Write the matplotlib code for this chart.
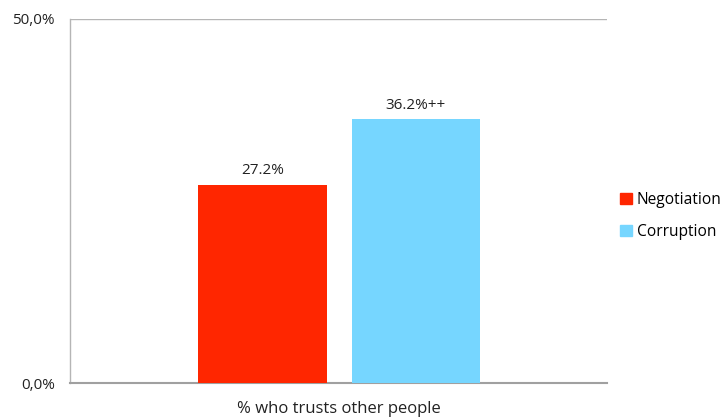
import matplotlib
matplotlib.use("Agg")
import matplotlib.pyplot as plt
from matplotlib.patches import Patch

categories = ["% who trusts other people"]
series = ["Negotiation", "Corruption"]
values = [27.2, 36.2]
labels = ["27.2%", "36.2%++"]
colors = ["#FF2600", "#76D6FF"]
yticks = [0, 50]
ytick_labels = ["0,0%", "50,0%"]

plt.rcParams['font.family'] = ['Open Sans', 'DejaVu Sans']

fig = plt.figure(figsize=(7.26, 4.19), dpi=100)
ax = fig.add_axes([70/726, 1-383/419, 537/726, 364/419])

offsets = [-0.1429, 0.1429]
width = 0.240
for v, lab, c, off in zip(values, labels, colors, offsets):
    ax.bar(0 + off, v, width=width, color=c, zorder=3)
    ax.text(0 + off, v + 0.9, lab, ha='center', va='bottom', fontsize=11, color='#222222')

ax.set_xlim(-0.5014, 0.4986)
ax.set_ylim(0, 50)
ax.set_yticks(yticks)
ax.set_yticklabels(ytick_labels, fontsize=11, color='#222222')
ax.set_xticks([0])
ax.set_xticklabels(categories, fontsize=12, color='#222222')
ax.tick_params(axis='x', length=0, pad=13)
ax.tick_params(axis='y', length=0, pad=11)
ax.axhline(50, color='#B5B5B5', lw=1.0, zorder=1)
for s in ['top', 'right']:
    ax.spines[s].set_visible(False)
ax.spines['left'].set_color('#B5B5B5')
ax.spines['left'].set_linewidth(1.0)
ax.spines['bottom'].set_color('#A0A0A0')
ax.spines['bottom'].set_linewidth(1.5)

handles = [Patch(color=c) for c in colors]
fig.legend(handles, series, loc='center left', bbox_to_anchor=(614/726, 1-216/419),
           frameon=False, fontsize=11.2, handlelength=0.75, handleheight=0.75,
           handletextpad=0.3, labelspacing=1.0, borderaxespad=0)

fig.savefig("out.png", dpi=100)
